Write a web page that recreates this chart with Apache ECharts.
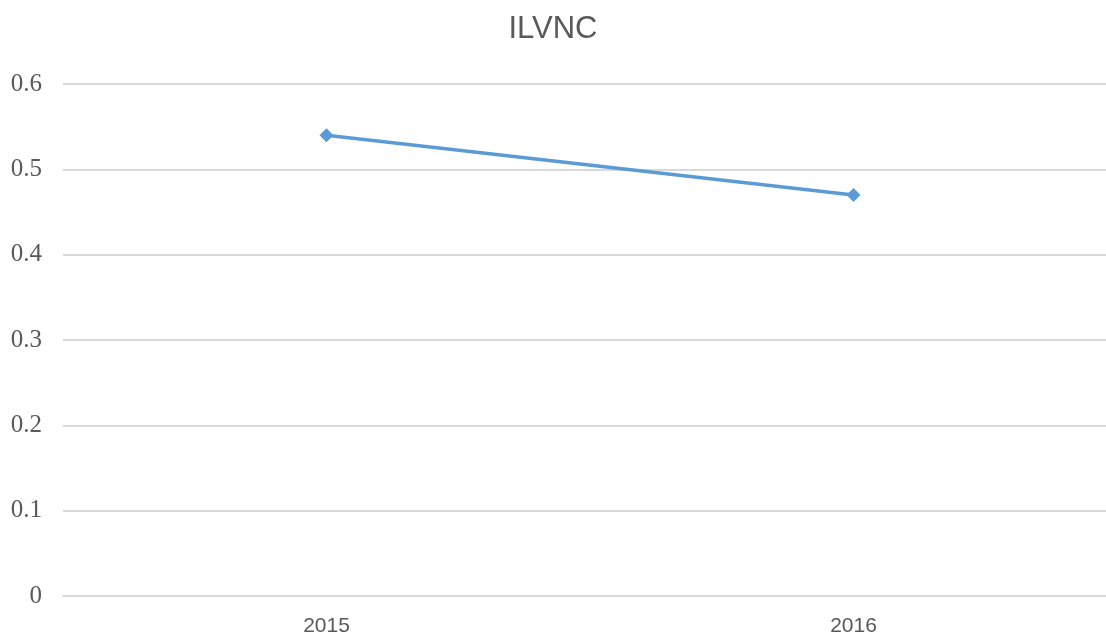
<!DOCTYPE html>
<html lang="en">
<head>
	<meta charset="utf-8">
	<title>ILVNC</title>
	<script src="https://cdn.jsdelivr.net/npm/echarts@6/dist/echarts.min.js"></script>
	<style>
		html, body { margin: 0; padding: 0; background: #fff; }
		#panel { width: 1106px; height: 637px; }
	</style>
</head>
<body>
	<div id="panel"></div>
	<script type="text/javascript">
		// 数据
		const years = ['2015', '2016'];
		const ilvnc = [0.54, 0.47];
		const yTicks = [0, 0.1, 0.2, 0.3, 0.4, 0.5, 0.6];

		const panel = echarts.init(document.getElementById('panel'));
		let option = {
			animation: false,
			title: {
				text: 'ILVNC',
				left: 'center',
				top: 9,
				textStyle: {
					fontFamily: 'Liberation Sans',
					fontSize: 31,
					fontWeight: 'normal',
					color: '#595959'
				}
			},
			// 图表右侧超出画面
			grid: { left: 63, top: 84, width: 1054, height: 512, outerBoundsMode: 'none' },
			xAxis: {
				type: 'category',
				data: years,
				boundaryGap: true,
				axisTick: { show: false },
				axisLine: { lineStyle: { color: '#d9d9d9', width: 2 } },
				axisLabel: {
					margin: 20,
					fontFamily: 'Liberation Sans',
					fontSize: 21,
					color: '#595959'
				}
			},
			yAxis: {
				type: 'value',
				min: yTicks[0],
				max: yTicks[yTicks.length - 1],
				interval: 0.1,
				axisLine: { show: false },
				axisTick: { show: false },
				splitLine: { lineStyle: { color: '#d9d9d9', width: 2 } },
				axisLabel: {
					margin: 21,
					fontFamily: 'Liberation Serif',
					fontSize: 25,
					color: '#595959',
					formatter: (v) => String(Math.round(v * 10) / 10)
				}
			},
			series: [{
				type: 'line',
				data: ilvnc,
				symbol: 'diamond',
				symbolSize: 14,
				lineStyle: { color: '#5b9bd5', width: 3.5 },
				itemStyle: { color: '#5b9bd5' }
			}]
		};
		panel.setOption(option);
	</script>
</body>
</html>
